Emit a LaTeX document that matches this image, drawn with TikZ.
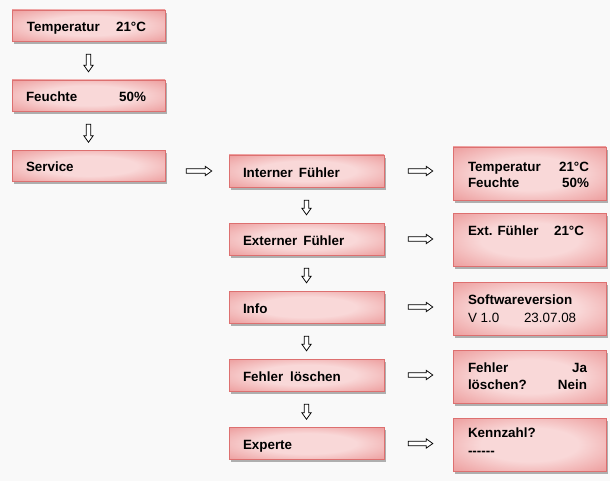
\documentclass[tikz,border=0pt]{standalone}
\usepackage{fontspec}
\setmainfont{Liberation Sans}
\usetikzlibrary{calc,shadows}
\definecolor{boxin}{HTML}{F9D8D8}
\definecolor{boxout}{HTML}{E67E7E}
\definecolor{boxedge}{HTML}{DD7070}
\definecolor{bgc}{HTML}{F9F9F9}
\pgfdeclareradialshading{boxshade}{\pgfpoint{0bp}{0bp}}{color(0bp)=(boxin); color(16bp)=(boxin); color(46bp)=(boxout); color(50bp)=(boxout)}
\tikzset{
  box/.style={rectangle, draw=boxedge, line width=0.4pt, shading=boxshade, inner sep=0pt,
    drop shadow={shadow xshift=2.2pt, shadow yshift=-2.6pt, fill=black!55, opacity=0.55}},
  lbox/.style={box, minimum width=153pt, minimum height=31pt},
  mbox/.style={box, minimum width=155pt, minimum height=32pt},
  rbox/.style={box, minimum width=153pt, minimum height=53pt},
  txt/.style={inner sep=0pt, font=\fontsize{13.4}{15}\selectfont\bfseries, text=black},
  rtxt/.style={inner sep=0pt, font=\fontsize{13.4}{15}\selectfont, text=black},
  tw/.style={anchor=base west},
  te/.style={anchor=base east},
  barrow/.style={draw=black, line width=0.75pt, fill=white, line join=miter,
    to path={($(\tikztostart)!2.2pt!90:(\tikztotarget)$)
      -- ($(\tikztotarget)!6.5pt!(\tikztostart)!2.2pt!90:(\tikztotarget)$)
      -- ($(\tikztotarget)!6.5pt!(\tikztostart)!4.6pt!90:(\tikztotarget)$)
      -- (\tikztotarget)
      -- ($(\tikztotarget)!6.5pt!(\tikztostart)!4.6pt!-90:(\tikztotarget)$)
      -- ($(\tikztotarget)!6.5pt!(\tikztostart)!2.2pt!-90:(\tikztotarget)$)
      -- ($(\tikztostart)!2.2pt!-90:(\tikztotarget)$) -- cycle}}
}
\begin{document}
\begin{tikzpicture}[x=1pt,y=-1pt]
\fill[bgc] (0,0) rectangle (610,481);
\useasboundingbox (0,0) rectangle (610,481);
% left column
\node[lbox] (l1) at (88.5,25.5) {};
\node[lbox] (l2) at (88.5,95.5) {};
\node[lbox] (l3) at (88.5,166) {};
% middle column
\node[mbox] (m1) at (306.5,171) {};
\node[mbox] (m2) at (306.5,239) {};
\node[mbox] (m3) at (306.5,307) {};
\node[mbox] (m4) at (306.5,375) {};
\node[mbox] (m5) at (306.5,443.5) {};
% right column
\node[rbox] (r1) at (529.5,173.5) {};
\node[rbox] (r2) at (529.5,239.5) {};
\node[rbox] (r3) at (529.5,308.5) {};
\node[rbox] (r4) at (529.5,376.5) {};
\node[rbox] (r5) at (529.5,444.5) {};
% left texts
\node[txt,tw] (l1a) at ($(l1.west)+(15,6.5)$) {Temperatur};
\node[txt,te] (l1b) at ($(l1.east)+(-19,6.5)$) {21°C};
\node[txt,tw] (l2a) at ($(l2.west)+(14,6.2)$) {Feuchte};
\node[txt,te] (l2b) at ($(l2.east)+(-19,6.2)$) {50\%};
\node[txt,tw] (l3a) at ($(l3.west)+(14,6)$) {Service};
% middle texts
\node[txt,tw] (m1a) at ($(m1.west)+(14,6.5)$) {Interner\hspace{6pt}Fühler};
\node[txt,tw] (m2a) at ($(m2.west)+(14,6.5)$) {Externer\hspace{6pt}Fühler};
\node[txt,tw] (m3a) at ($(m3.west)+(14,6)$) {Info};
\node[txt,tw] (m4a) at ($(m4.west)+(14,6.5)$) {Fehler\hspace{7pt}löschen};
\node[txt,tw] (m5a) at ($(m5.west)+(14,6)$) {Experte};
% right texts
\node[txt,tw] (r1a) at ($(r1.north west)+(15,24.5)$) {Temperatur};
\node[txt,te] (r1b) at ($(r1.north east)+(-17,24.5)$) {21°C};
\node[txt,tw] (r1c) at ($(r1.north west)+(15,40.5)$) {Feuchte};
\node[txt,te] (r1d) at ($(r1.north east)+(-17,40.5)$) {50\%};
\node[txt,tw] (r2a) at ($(r2.north west)+(15,23)$) {Ext. Fühler};
\node[txt,te] (r2b) at ($(r2.north east)+(-22,23)$) {21°C};
\node[txt,tw] (r3a) at ($(r3.north west)+(15,23)$) {Softwareversion};
\node[rtxt,tw] (r3b) at ($(r3.north west)+(15,40.5)$) {V 1.0};
\node[rtxt,tw] (r3c) at ($(r3.north west)+(71,40.5)$) {23.07.08};
\node[txt,tw] (r4a) at ($(r4.north west)+(15,22.5)$) {Fehler};
\node[txt,te] (r4b) at ($(r4.north east)+(-19,22.5)$) {Ja};
\node[txt,tw] (r4c) at ($(r4.north west)+(15,40)$) {löschen?};
\node[txt,te] (r4d) at ($(r4.north east)+(-19,40)$) {Nein};
\node[txt,tw] (r5a) at ($(r5.north west)+(15,20)$) {Kennzahl?};
\node[txt,tw] (r5b) at ($(r5.north west)+(15,38)$) {-{}-{}-{}-{}-{}-};
% arrow end coordinates
\path (l3.east |- m1.west) ++(21,0) coordinate (h0s);
\path (m1.west) ++(-17,0) coordinate (h0e);
\foreach \i in {1,...,5}{
  \path (m\i.east) ++(24,0) coordinate (h\i s);
  \path (m\i.east -| r\i.west) ++(-20,0) coordinate (h\i e);
}
% down arrows
\draw[barrow] ([yshift=-13pt]l1.south) to ([yshift=8pt]l2.north);
\draw[barrow] ([yshift=-13pt]l2.south) to ([yshift=8pt]l3.north);
\draw[barrow] ([yshift=-13pt]m1.south) to ([yshift=8pt]m2.north);
\draw[barrow] ([yshift=-13pt]m2.south) to ([yshift=8pt]m3.north);
\draw[barrow] ([yshift=-13pt]m3.south) to ([yshift=8pt]m4.north);
\draw[barrow] ([yshift=-13pt]m4.south) to ([yshift=8pt]m5.north);
% right arrows
\draw[barrow] (h0s) to (h0e);
\draw[barrow] (h1s) to (h1e);
\draw[barrow] (h2s) to (h2e);
\draw[barrow] (h3s) to (h3e);
\draw[barrow] (h4s) to (h4e);
\draw[barrow] (h5s) to (h5e);
\end{tikzpicture}
\end{document}
